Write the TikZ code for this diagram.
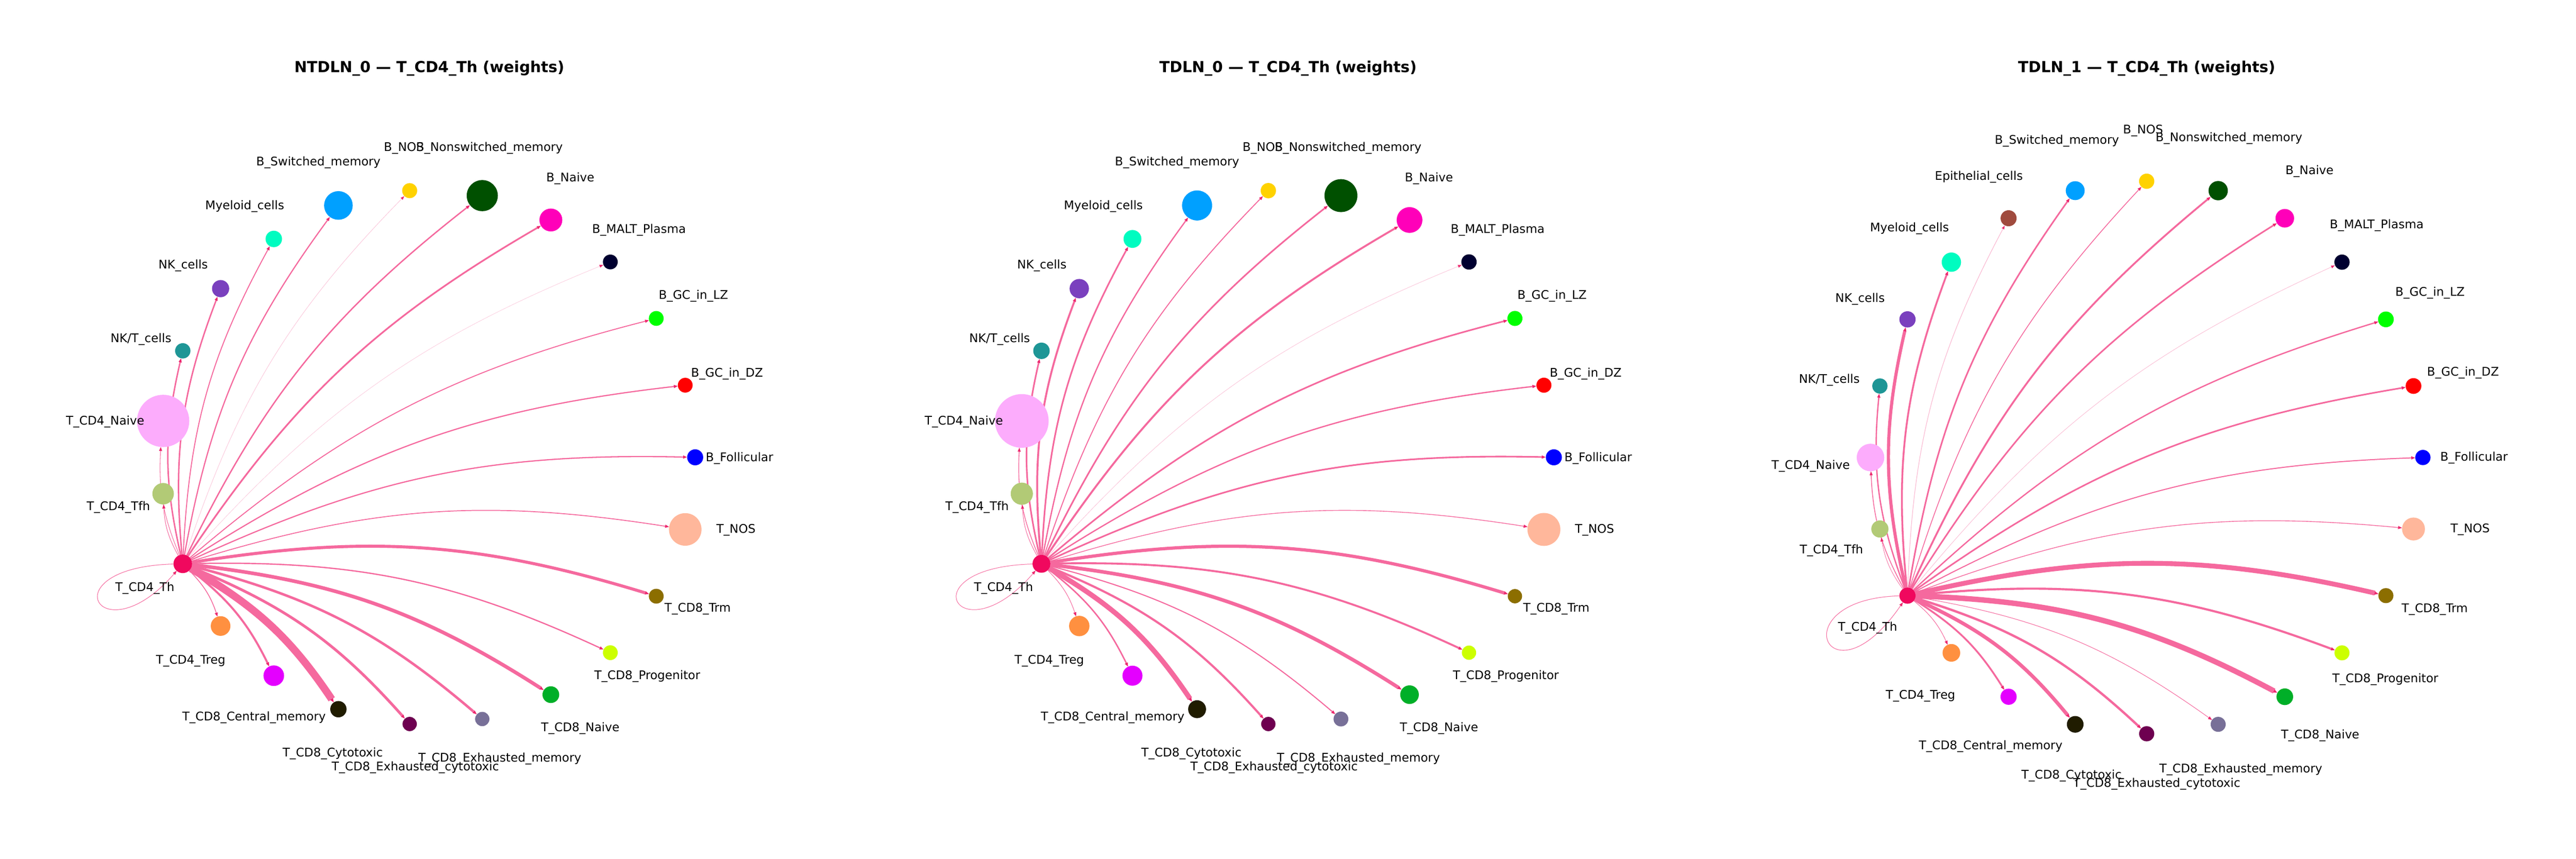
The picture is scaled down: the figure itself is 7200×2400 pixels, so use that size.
\documentclass[tikz,border=0pt]{standalone}
\usepackage{fontspec}
\setmainfont{DejaVu Sans}
\usetikzlibrary{arrows.meta}
\pgfdeclarelayer{bglayer}
\pgfdeclarelayer{edgelayer}
\pgfsetlayers{bglayer,edgelayer,main}
\definecolor{edgec}{RGB}{245,105,158}
\definecolor{headc}{RGB}{236,40,110}
\definecolor{cFol}{RGB}{0,0,255}
\definecolor{cDZ}{RGB}{255,0,0}
\definecolor{cLZ}{RGB}{0,255,0}
\definecolor{cMALT}{RGB}{0,0,48}
\definecolor{cBn}{RGB}{255,0,185}
\definecolor{cBns}{RGB}{0,80,0}
\definecolor{cBnos}{RGB}{255,210,0}
\definecolor{cBsw}{RGB}{0,160,255}
\definecolor{cEpi}{RGB}{160,75,62}
\definecolor{cMye}{RGB}{0,252,192}
\definecolor{cNK}{RGB}{122,64,190}
\definecolor{cNKT}{RGB}{30,150,150}
\definecolor{cTN}{RGB}{252,172,252}
\definecolor{cTfh}{RGB}{178,202,118}
\definecolor{cTh}{RGB}{240,8,94}
\definecolor{cTreg}{RGB}{255,144,64}
\definecolor{cCM}{RGB}{228,0,255}
\definecolor{cCyto}{RGB}{32,28,0}
\definecolor{cExC}{RGB}{110,0,80}
\definecolor{cExM}{RGB}{120,112,152}
\definecolor{cCEn}{RGB}{0,175,40}
\definecolor{cProg}{RGB}{204,255,0}
\definecolor{cTrm}{RGB}{140,110,0}
\definecolor{cTnos}{RGB}{255,183,155}
\tikzset{
  cell/.style={circle,draw=none,inner sep=0pt,outer sep=0pt,minimum size=#1*0.48pt},
  lbl/.style={font=\fontsize{8}{9.6}\selectfont,anchor=base,inner sep=0pt,text=black},
  ttl/.style={font=\fontsize{10.2}{12.2}\selectfont\bfseries,anchor=base,inner sep=0pt},
  w/.style={line width=#1*0.24pt},
  edge/.style={draw=edgec,-{Triangle[length=2.7pt,width=2pt,color=headc]}},
  faint/.style={draw opacity=0.5},
}
\newcommand\mkcell[6]{\node[cell=#5,fill=#6] (#1) at ([shift={(#2)}]#3:#4) {};}
\begin{document}
\begin{tikzpicture}[x=0.24pt,y=0.24pt]
\useasboundingbox (0,0) rectangle (7200,2400);
\begin{pgfonlayer}{bglayer}
\fill[white] (0,0) rectangle (7200,2400);
\end{pgfonlayer}

% ---------------- titles
\node[ttl] (t1) at (1200,2198) {NTDLN\_0 — T\_CD4\_Th (weights)};
\node[ttl] (t2) at (3600,2198) {TDLN\_0 — T\_CD4\_Th (weights)};
\node[ttl] (t3) at (6000,2198) {TDLN\_1 — T\_CD4\_Th (weights)};

% ================= panel 1
\mkcell{aFol}{1196,1122}{0}{747}{22.4}{cFol}
\mkcell{aDZ}{1196,1122}{15.652}{747}{20.7}{cDZ}
\mkcell{aLZ}{1196,1122}{31.304}{747}{20.7}{cLZ}
\mkcell{aMALT}{1196,1122}{46.957}{747}{20.7}{cMALT}
\mkcell{aBn}{1196,1122}{62.609}{747}{32}{cBn}
\mkcell{aBns}{1196,1122}{78.261}{747}{43.5}{cBns}
\mkcell{aBnos}{1196,1122}{93.913}{747}{21}{cBnos}
\mkcell{aBsw}{1196,1122}{109.565}{747}{40}{cBsw}
\mkcell{aMye}{1196,1122}{125.217}{747}{23}{cMye}
\mkcell{aNK}{1196,1122}{140.870}{747}{24}{cNK}
\mkcell{aNKT}{1196,1122}{156.522}{747}{21.4}{cNKT}
\mkcell{aTN}{1196,1122}{172.174}{747}{73}{cTN}
\mkcell{aTfh}{1196,1122}{187.826}{747}{30}{cTfh}
\mkcell{aTh}{1196,1122}{203.478}{747}{26}{cTh}
\mkcell{aTreg}{1196,1122}{219.130}{747}{27.5}{cTreg}
\mkcell{aCM}{1196,1122}{234.783}{747}{28.8}{cCM}
\mkcell{aCyto}{1196,1122}{250.435}{747}{22.8}{cCyto}
\mkcell{aExC}{1196,1122}{266.087}{747}{20}{cExC}
\mkcell{aExM}{1196,1122}{281.739}{747}{20}{cExM}
\mkcell{aCEn}{1196,1122}{297.391}{747}{23.4}{cCEn}
\mkcell{aProg}{1196,1122}{313.043}{747}{20.7}{cProg}
\mkcell{aTrm}{1196,1122}{328.696}{747}{20.7}{cTrm}
\mkcell{aTnos}{1196,1122}{344.348}{747}{45.5}{cTnos}

\node[lbl] (aFol-l) at (2067,1111) {B\_Follicular};
\node[lbl] (aDZ-l) at (2032,1347) {B\_GC\_in\_DZ};
\node[lbl] (aLZ-l) at (1938,1564) {B\_GC\_in\_LZ};
\node[lbl] (aMALT-l) at (1786,1748) {B\_MALT\_Plasma};
\node[lbl] (aBn-l) at (1594,1892) {B\_Naive};
\node[lbl] (aBns-l) at (1368,1978) {B\_Nonswitched\_memory};
\node[lbl] (aBnos-l) at (1129,1977) {B\_NOS};
\node[lbl] (aBsw-l) at (890,1937) {B\_Switched\_memory};
\node[lbl] (aMye-l) at (684,1814) {Myeloid\_cells};
\node[lbl] (aNK-l) at (512,1649) {NK\_cells};
\node[lbl] (aNKT-l) at (394,1443) {NK/T\_cells};
\node[lbl] (aTN-l) at (294,1213) {T\_CD4\_Naive};
\node[lbl] (aTfh-l) at (331,974) {T\_CD4\_Tfh};
\node[lbl] (aTh-l) at (405,747) {T\_CD4\_Th};
\node[lbl] (aTreg-l) at (533,545) {T\_CD4\_Treg};
\node[lbl] (aCM-l) at (710,386) {T\_CD8\_Central\_memory};
\node[lbl] (aCyto-l) at (930,286) {T\_CD8\_Cytotoxic};
\node[lbl] (aExC-l) at (1161,247) {T\_CD8\_Exhausted\_cytotoxic};
\node[lbl] (aExM-l) at (1397,271) {T\_CD8\_Exhausted\_memory};
\node[lbl] (aCEn-l) at (1622,356) {T\_CD8\_Naive};
\node[lbl] (aProg-l) at (1809,501) {T\_CD8\_Progenitor};
\node[lbl] (aTrm-l) at (1950,690) {T\_CD8\_Trm};
\node[lbl] (aTnos-l) at (2057,911) {T\_NOS};

\begin{pgfonlayer}{edgelayer}
\draw[edge,w=3.3] (aTh) to[bend left=13] (aFol);
\draw[edge,w=3.3] (aTh) to[bend left=13] (aDZ);
\draw[edge,w=2.7] (aTh) to[bend left=13] (aLZ);
\draw[edge,faint,w=0.7] (aTh) to[bend left=13] (aMALT);
\draw[edge,w=4.7] (aTh) to[bend left=13] (aBn);
\draw[edge,w=3.8] (aTh) to[bend left=13] (aBns);
\draw[edge,faint,w=0.9] (aTh) to[bend left=13] (aBnos);
\draw[edge,w=3.3] (aTh) to[bend left=13] (aBsw);
\draw[edge,w=2.7] (aTh) to[bend left=13] (aMye);
\draw[edge,w=4] (aTh) to[bend left=13] (aNK);
\draw[edge,w=4] (aTh) to[bend left=13] (aNKT);
\draw[edge,w=1.5] (aTh) to[bend left=13] (aTN);
\draw[edge,w=1.5] (aTh) to[bend left=13] (aTfh);
\draw[edge,w=2.2] (aTh) to[bend left=13] (aTreg);
\draw[edge,w=5.7] (aTh) to[bend left=13] (aCM);
\draw[edge,w=21] (aTh) to[bend left=13] (aCyto);
\draw[edge,w=7.5] (aTh) to[bend left=13] (aExC);
\draw[edge,w=7] (aTh) to[bend left=13] (aExM);
\draw[edge,w=10] (aTh) to[bend left=13] (aCEn);
\draw[edge,w=3.5] (aTh) to[bend left=13] (aProg);
\draw[edge,w=8.5] (aTh) to[bend left=13] (aTrm);
\draw[edge,w=2.5] (aTh) to[bend left=13] (aTnos);
\draw[edge,w=1.5] (aTh) .. controls +(-380,-10) and +(-230,-265) .. (aTh);
\end{pgfonlayer}

% ================= panel 2
\mkcell{bFol}{3596,1122}{0}{747}{22.4}{cFol}
\mkcell{bDZ}{3596,1122}{15.652}{747}{21}{cDZ}
\mkcell{bLZ}{3596,1122}{31.304}{747}{21}{cLZ}
\mkcell{bMALT}{3596,1122}{46.957}{747}{21.4}{cMALT}
\mkcell{bBn}{3596,1122}{62.609}{747}{36}{cBn}
\mkcell{bBns}{3596,1122}{78.261}{747}{46}{cBns}
\mkcell{bBnos}{3596,1122}{93.913}{747}{21.4}{cBnos}
\mkcell{bBsw}{3596,1122}{109.565}{747}{42}{cBsw}
\mkcell{bMye}{3596,1122}{125.217}{747}{25}{cMye}
\mkcell{bNK}{3596,1122}{140.870}{747}{27}{cNK}
\mkcell{bNKT}{3596,1122}{156.522}{747}{23}{cNKT}
\mkcell{bTN}{3596,1122}{172.174}{747}{75}{cTN}
\mkcell{bTfh}{3596,1122}{187.826}{747}{31}{cTfh}
\mkcell{bTh}{3596,1122}{203.478}{747}{25}{cTh}
\mkcell{bTreg}{3596,1122}{219.130}{747}{28.5}{cTreg}
\mkcell{bCM}{3596,1122}{234.783}{747}{28}{cCM}
\mkcell{bCyto}{3596,1122}{250.435}{747}{25}{cCyto}
\mkcell{bExC}{3596,1122}{266.087}{747}{20}{cExC}
\mkcell{bExM}{3596,1122}{281.739}{747}{20.7}{cExM}
\mkcell{bCEn}{3596,1122}{297.391}{747}{26}{cCEn}
\mkcell{bProg}{3596,1122}{313.043}{747}{20}{cProg}
\mkcell{bTrm}{3596,1122}{328.696}{747}{20}{cTrm}
\mkcell{bTnos}{3596,1122}{344.348}{747}{46}{cTnos}

\node[lbl] (bFol-l) at (4467,1111) {B\_Follicular};
\node[lbl] (bDZ-l) at (4432,1347) {B\_GC\_in\_DZ};
\node[lbl] (bLZ-l) at (4338,1564) {B\_GC\_in\_LZ};
\node[lbl] (bMALT-l) at (4186,1748) {B\_MALT\_Plasma};
\node[lbl] (bBn-l) at (3994,1892) {B\_Naive};
\node[lbl] (bBns-l) at (3768,1978) {B\_Nonswitched\_memory};
\node[lbl] (bBnos-l) at (3529,1977) {B\_NOS};
\node[lbl] (bBsw-l) at (3290,1937) {B\_Switched\_memory};
\node[lbl] (bMye-l) at (3084,1814) {Myeloid\_cells};
\node[lbl] (bNK-l) at (2912,1649) {NK\_cells};
\node[lbl] (bNKT-l) at (2794,1443) {NK/T\_cells};
\node[lbl] (bTN-l) at (2694,1213) {T\_CD4\_Naive};
\node[lbl] (bTfh-l) at (2731,974) {T\_CD4\_Tfh};
\node[lbl] (bTh-l) at (2805,747) {T\_CD4\_Th};
\node[lbl] (bTreg-l) at (2933,545) {T\_CD4\_Treg};
\node[lbl] (bCM-l) at (3110,386) {T\_CD8\_Central\_memory};
\node[lbl] (bCyto-l) at (3330,286) {T\_CD8\_Cytotoxic};
\node[lbl] (bExC-l) at (3561,247) {T\_CD8\_Exhausted\_cytotoxic};
\node[lbl] (bExM-l) at (3797,271) {T\_CD8\_Exhausted\_memory};
\node[lbl] (bCEn-l) at (4022,356) {T\_CD8\_Naive};
\node[lbl] (bProg-l) at (4209,501) {T\_CD8\_Progenitor};
\node[lbl] (bTrm-l) at (4350,690) {T\_CD8\_Trm};
\node[lbl] (bTnos-l) at (4457,911) {T\_NOS};

\begin{pgfonlayer}{edgelayer}
\draw[edge,w=4.5] (bTh) to[bend left=13] (bFol);
\draw[edge,w=3.6] (bTh) to[bend left=13] (bDZ);
\draw[edge,w=4.5] (bTh) to[bend left=13] (bLZ);
\draw[edge,faint,w=0.9] (bTh) to[bend left=13] (bMALT);
\draw[edge,w=5.4] (bTh) to[bend left=13] (bBn);
\draw[edge,w=4.5] (bTh) to[bend left=13] (bBns);
\draw[edge,w=2.7] (bTh) to[bend left=13] (bBnos);
\draw[edge,w=3.6] (bTh) to[bend left=13] (bBsw);
\draw[edge,w=4.5] (bTh) to[bend left=13] (bMye);
\draw[edge,w=5.4] (bTh) to[bend left=13] (bNK);
\draw[edge,w=4.5] (bTh) to[bend left=13] (bNKT);
\draw[edge,w=2] (bTh) to[bend left=13] (bTN);
\draw[edge,w=1.4] (bTh) to[bend left=13] (bTfh);
\draw[edge,w=1.5] (bTh) to[bend left=13] (bTreg);
\draw[edge,w=4] (bTh) to[bend left=13] (bCM);
\draw[edge,w=14] (bTh) to[bend left=13] (bCyto);
\draw[edge,w=6] (bTh) to[bend left=13] (bExC);
\draw[edge,w=3] (bTh) to[bend left=13] (bExM);
\draw[edge,w=10] (bTh) to[bend left=13] (bCEn);
\draw[edge,w=5.5] (bTh) to[bend left=13] (bProg);
\draw[edge,w=9] (bTh) to[bend left=13] (bTrm);
\draw[edge,w=2] (bTh) to[bend left=13] (bTnos);
\draw[edge,w=1.4] (bTh) .. controls +(-380,-10) and +(-230,-265) .. (bTh);
\end{pgfonlayer}

% ================= panel 3
\mkcell{cFol}{6000,1121.5}{0}{772}{21.3}{cFol}
\mkcell{cDZ}{6000,1121.5}{15}{772}{22}{cDZ}
\mkcell{cLZ}{6000,1121.5}{30}{772}{22}{cLZ}
\mkcell{cMALT}{6000,1121.5}{45}{772}{21.3}{cMALT}
\mkcell{cBn}{6000,1121.5}{60}{772}{26}{cBn}
\mkcell{cBns}{6000,1121.5}{75}{772}{27}{cBns}
\mkcell{cBnos}{6000,1121.5}{90}{772}{21.3}{cBnos}
\mkcell{cBsw}{6000,1121.5}{105}{772}{26.4}{cBsw}
\mkcell{cEpi}{6000,1121.5}{120}{772}{22.4}{cEpi}
\mkcell{cMye}{6000,1121.5}{135}{772}{27}{cMye}
\mkcell{cNK}{6000,1121.5}{150}{772}{22.7}{cNK}
\mkcell{cNKT}{6000,1121.5}{165}{772}{21.3}{cNKT}
\mkcell{cTN}{6000,1121.5}{180}{772}{38.5}{cTN}
\mkcell{cTfh}{6000,1121.5}{195}{772}{24}{cTfh}
\mkcell{cTh}{6000,1121.5}{210}{772}{22.6}{cTh}
\mkcell{cTreg}{6000,1121.5}{225}{772}{24.7}{cTreg}
\mkcell{cCM}{6000,1121.5}{240}{772}{22.6}{cCM}
\mkcell{cCyto}{6000,1121.5}{255}{772}{23.3}{cCyto}
\mkcell{cExC}{6000,1121.5}{270}{772}{21.2}{cExC}
\mkcell{cExM}{6000,1121.5}{285}{772}{21}{cExM}
\mkcell{cCEn}{6000,1121.5}{300}{772}{23.3}{cCEn}
\mkcell{cProg}{6000,1121.5}{315}{772}{21}{cProg}
\mkcell{cTrm}{6000,1121.5}{330}{772}{21}{cTrm}
\mkcell{cTnos}{6000,1121.5}{345}{772}{32}{cTnos}

\node[lbl] (cFol-l) at (6915,1112) {B\_Follicular};
\node[lbl] (cDZ-l) at (6884,1350) {B\_GC\_in\_DZ};
\node[lbl] (cLZ-l) at (6792,1572) {B\_GC\_in\_LZ};
\node[lbl] (cMALT-l) at (6643,1761) {B\_MALT\_Plasma};
\node[lbl] (cBn-l) at (6455,1912) {B\_Naive};
\node[lbl] (cBns-l) at (6230,2005) {B\_Nonswitched\_memory};
\node[lbl] (cBnos-l) at (5990,2026) {B\_NOS};
\node[lbl] (cBsw-l) at (5749,1998) {B\_Switched\_memory};
\node[lbl] (cEpi-l) at (5531,1897) {Epithelial\_cells};
\node[lbl] (cMye-l) at (5337,1753) {Myeloid\_cells};
\node[lbl] (cNK-l) at (5199,1555) {NK\_cells};
\node[lbl] (cNKT-l) at (5113,1330) {NK/T\_cells};
\node[lbl] (cTN-l) at (5061,1089) {T\_CD4\_Naive};
\node[lbl] (cTfh-l) at (5119,853) {T\_CD4\_Tfh};
\node[lbl] (cTh-l) at (5220,636) {T\_CD4\_Th};
\node[lbl] (cTreg-l) at (5368,446) {T\_CD4\_Treg};
\node[lbl] (cCM-l) at (5564,306) {T\_CD8\_Central\_memory};
\node[lbl] (cCyto-l) at (5790,223) {T\_CD8\_Cytotoxic};
\node[lbl] (cExC-l) at (6028,201) {T\_CD8\_Exhausted\_cytotoxic};
\node[lbl] (cExM-l) at (6263,241) {T\_CD8\_Exhausted\_memory};
\node[lbl] (cCEn-l) at (6485,336) {T\_CD8\_Naive};
\node[lbl] (cProg-l) at (6667,493) {T\_CD8\_Progenitor};
\node[lbl] (cTrm-l) at (6805,688) {T\_CD8\_Trm};
\node[lbl] (cTnos-l) at (6904,912) {T\_NOS};

\begin{pgfonlayer}{edgelayer}
\draw[edge,w=2.9] (cTh) to[bend left=13] (cFol);
\draw[edge,w=4.4] (cTh) to[bend left=13] (cDZ);
\draw[edge,w=3.7] (cTh) to[bend left=13] (cLZ);
\draw[edge,faint,w=1.1] (cTh) to[bend left=13] (cMALT);
\draw[edge,w=4.4] (cTh) to[bend left=13] (cBn);
\draw[edge,w=5.1] (cTh) to[bend left=13] (cBns);
\draw[edge,w=2.2] (cTh) to[bend left=13] (cBnos);
\draw[edge,w=4.4] (cTh) to[bend left=13] (cBsw);
\draw[edge,faint,w=1.5] (cTh) to[bend left=13] (cEpi);
\draw[edge,w=5.1] (cTh) to[bend left=13] (cMye);
\draw[edge,w=8.8] (cTh) to[bend left=13] (cNK);
\draw[edge,w=3.7] (cTh) to[bend left=13] (cNKT);
\draw[edge,w=2.2] (cTh) to[bend left=13] (cTN);
\draw[edge,w=1.2] (cTh) to[bend left=13] (cTfh);
\draw[edge,w=1.5] (cTh) to[bend left=13] (cTreg);
\draw[edge,w=5] (cTh) to[bend left=13] (cCM);
\draw[edge,w=10] (cTh) to[bend left=13] (cCyto);
\draw[edge,w=6.5] (cTh) to[bend left=13] (cExC);
\draw[edge,w=1.5] (cTh) to[bend left=13] (cExM);
\draw[edge,w=15] (cTh) to[bend left=13] (cCEn);
\draw[edge,w=6] (cTh) to[bend left=13] (cProg);
\draw[edge,w=13.5] (cTh) to[bend left=13] (cTrm);
\draw[edge,w=2] (cTh) to[bend left=13] (cTnos);
\draw[edge,w=1.5] (cTh) .. controls +(-360,-10) and +(-220,-320) .. (cTh);
\end{pgfonlayer}
\end{tikzpicture}
\end{document}
